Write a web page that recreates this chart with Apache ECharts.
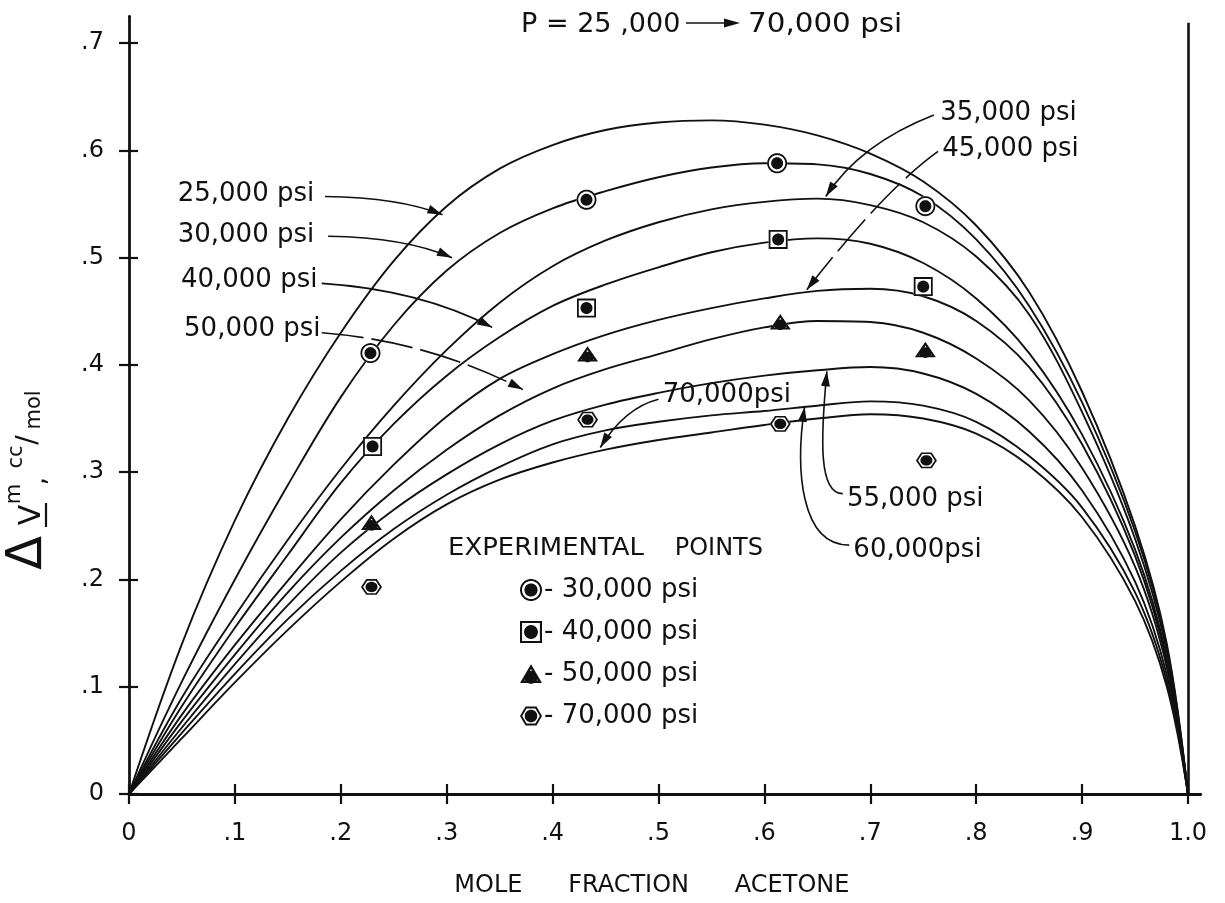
<!DOCTYPE html>
<html>
<head>
<meta charset="utf-8">
<title>Excess volume of mixing vs mole fraction acetone</title>
<script src="https://cdn.jsdelivr.net/npm/echarts@6/dist/echarts.min.js"></script>
<style>
  html, body { margin: 0; padding: 0; background: #fff; }
  #chart { width: 1225px; height: 903px; }
</style>
</head>
<body>
<div id="chart"></div>
<script>
// ---- Smoothed isobars: excess molar volume (cc/mol) vs mole fraction acetone ----
const moleFraction = [0, 0.05, 0.10, 0.15, 0.20, 0.25, 0.30, 0.35, 0.40, 0.45, 0.50, 0.55, 0.60, 0.65, 0.70, 0.75, 0.80, 0.85, 0.90, 0.95, 0.98, 1.00];
const dv25k = [0, 0.140, 0.255, 0.350, 0.430, 0.497, 0.548, 0.583, 0.605, 0.619, 0.626, 0.628, 0.624, 0.614, 0.597, 0.571, 0.530, 0.468, 0.375, 0.250, 0.140, 0];
const dv30k = [0, 0.105, 0.200, 0.288, 0.370, 0.437, 0.488, 0.523, 0.546, 0.562, 0.575, 0.584, 0.588, 0.587, 0.578, 0.557, 0.517, 0.455, 0.365, 0.245, 0.137, 0];
const dv35k = [0, 0.090, 0.166, 0.237, 0.303, 0.362, 0.414, 0.458, 0.492, 0.516, 0.533, 0.545, 0.552, 0.555, 0.549, 0.533, 0.501, 0.447, 0.356, 0.238, 0.133, 0];
const dv40k = [0, 0.082, 0.155, 0.223, 0.290, 0.345, 0.390, 0.426, 0.455, 0.475, 0.491, 0.505, 0.514, 0.518, 0.513, 0.495, 0.462, 0.411, 0.335, 0.228, 0.127, 0];
const dv45k = [0, 0.074, 0.139, 0.199, 0.256, 0.307, 0.352, 0.387, 0.410, 0.428, 0.442, 0.453, 0.462, 0.469, 0.471, 0.464, 0.441, 0.398, 0.326, 0.222, 0.123, 0];
const dv50k = [0, 0.068, 0.130, 0.188, 0.239, 0.283, 0.321, 0.353, 0.378, 0.396, 0.410, 0.424, 0.435, 0.441, 0.440, 0.430, 0.406, 0.367, 0.304, 0.212, 0.118, 0];
const dv55k = [0, 0.062, 0.121, 0.176, 0.225, 0.265, 0.298, 0.326, 0.348, 0.363, 0.374, 0.383, 0.390, 0.395, 0.398, 0.392, 0.373, 0.338, 0.283, 0.198, 0.111, 0];
const dv60k = [0, 0.057, 0.112, 0.163, 0.208, 0.247, 0.279, 0.305, 0.326, 0.339, 0.347, 0.353, 0.357, 0.362, 0.366, 0.362, 0.347, 0.315, 0.267, 0.188, 0.105, 0];
const dv70k = [0, 0.052, 0.104, 0.153, 0.198, 0.238, 0.270, 0.293, 0.309, 0.321, 0.330, 0.337, 0.344, 0.350, 0.354, 0.350, 0.336, 0.306, 0.258, 0.180, 0.100, 0];

// ---- Experimental points ----
const exp30kX = [0.228, 0.432, 0.612, 0.752];
const exp30kY = [0.411, 0.554, 0.588, 0.548];
const exp40kX = [0.230, 0.432, 0.613, 0.750];
const exp40kY = [0.324, 0.453, 0.517, 0.473];
const exp50kX = [0.229, 0.433, 0.615, 0.752];
const exp50kY = [0.253, 0.410, 0.440, 0.414];
const exp70kX = [0.229, 0.433, 0.615, 0.753];
const exp70kY = [0.193, 0.349, 0.345, 0.311];

// ---- Tick values ----
const xTickValues = [0, 0.1, 0.2, 0.3, 0.4, 0.5, 0.6, 0.7, 0.8, 0.9, 1.0];
const yTickValues = [0, 0.1, 0.2, 0.3, 0.4, 0.5, 0.6, 0.7];

const FONT = 'DejaVu Sans';
const INK = '#111';

const isobars = [
  { label: '25,000 psi', values: dv25k },
  { label: '30,000 psi', values: dv30k },
  { label: '35,000 psi', values: dv35k },
  { label: '40,000 psi', values: dv40k },
  { label: '45,000 psi', values: dv45k },
  { label: '50,000 psi', values: dv50k },
  { label: '55,000 psi', values: dv55k },
  { label: '60,000 psi', values: dv60k },
  { label: '70,000 psi', values: dv70k }
];

// ---- Marker shapes: outline ring + solid centre dot, as one path ----
function poly(points) {
  return 'M' + points.map(p => p[0].toFixed(3) + ' ' + p[1].toFixed(3)).join(' L') + ' Z';
}
function roundPts(r, cx, cy, n) {
  const out = [];
  for (let i = 0; i < n; i++) {
    const t = 2 * Math.PI * i / n;
    out.push([cx + r * Math.cos(t), cy + r * Math.sin(t)]);
  }
  return out;
}
function scalePts(pts, k) { return pts.map(p => [p[0] * k, p[1] * k]); }
function marker(outer, k, dot) {
  const hole = scalePts(outer, k).reverse();
  return {
    full: 'path://' + poly(outer) + ' ' + poly(hole) + ' ' + poly(dot),
    back: 'path://' + poly(outer)
  };
}
const mCircle = marker(roundPts(10, 0, 0, 48), 0.82, roundPts(6, 0, 0, 32));
const mSquare = marker([[-9.5, -9.5], [9.5, -9.5], [9.5, 9.5], [-9.5, 9.5]], 0.81, roundPts(6, 0, 0, 32));
const mTriangle = marker([[0, -12], [10.5, 6], [-10.5, 6]], 0.62, roundPts(6.2, 0, 0.6, 32));
const mHexagon = marker(roundPts(10.5, 0, 0, 6), 0.80, roundPts(6, 0, 0, 32));

const experiments = [
  { label: '30,000 psi', xs: exp30kX, ys: exp30kY, shape: mCircle, size: [20, 20] },
  { label: '40,000 psi', xs: exp40kX, ys: exp40kY, shape: mSquare, size: [19, 19] },
  { label: '50,000 psi', xs: exp50kX, ys: exp50kY, shape: mTriangle, size: [21, 18] },
  { label: '70,000 psi', xs: exp70kX, ys: exp70kY, shape: mHexagon, size: [21, 18.2] }
];

const pairs = (xs, ys) => xs.map((x, i) => [x, ys[i]]);

const series = [];
isobars.forEach((c, idx) => {
  const s = {
    type: 'line',
    name: c.label + ' isobar',
    data: pairs(moleFraction, c.values),
    smooth: 0.35,
    symbol: 'none',
    silent: true,
    lineStyle: { color: INK, width: 1.9 },
    z: 2
  };
  if (idx === 0) {
    // closing frame line at x = 1.0
    s.markLine = {
      silent: true,
      symbol: ['none', 'none'],
      label: { show: false },
      lineStyle: { color: INK, width: 2.6, type: 'solid' },
      data: [[{ coord: [1, 0] }, { coord: [1, 0.719] }]]
    };
  }
  series.push(s);
});
experiments.forEach(e => {
  series.push({
    type: 'scatter',
    name: e.label + ' backing',
    data: pairs(e.xs, e.ys),
    symbol: e.shape.back,
    symbolSize: e.size,
    symbolKeepAspect: true,
    itemStyle: { color: '#fff', opacity: 1 },
    silent: true,
    z: 4
  });
  series.push({
    type: 'scatter',
    name: e.label,
    data: pairs(e.xs, e.ys),
    symbol: e.shape.full,
    symbolSize: e.size,
    symbolKeepAspect: true,
    itemStyle: { color: INK, opacity: 1 },
    silent: true,
    z: 5
  });
});

const fmtX = v => (Math.abs(v) < 1e-9 ? '0' : Math.abs(v - 1) < 1e-9 ? '1.0' : v.toFixed(1).replace(/^0/, ''));
const fmtY = v => (Math.abs(v) < 1e-9 ? '0' : v.toFixed(1).replace(/^0/, ''));

const axisLine = { show: true, onZero: false, lineStyle: { color: INK, width: 2.8 } };
const tickLine = { color: INK, width: 2.2 };
const labelStyle = { color: INK, fontSize: 24, fontFamily: FONT };

const option = {
  animation: false,
  backgroundColor: '#fff',
  textStyle: { fontFamily: FONT, color: INK },
  grid: { left: 129, right: 24.3, top: 16.3, bottom: 108, containLabel: false },
  xAxis: [
    {
      type: 'value', min: 0, max: 1.012, position: 'bottom',
      axisLine: axisLine,
      axisTick: { show: true, length: 10, lineStyle: tickLine, customValues: xTickValues },
      axisLabel: Object.assign({ customValues: xTickValues, formatter: fmtX, margin: 28 }, labelStyle),
      splitLine: { show: false },
      name: 'MOLE      FRACTION      ACETONE',
      nameLocation: 'middle',
      nameGap: 80,
      nameTextStyle: { color: INK, fontSize: 24, fontFamily: FONT, padding: [0, 26, 0, 0] }
    },
    {
      type: 'value', min: 0, max: 1.012, position: 'bottom',
      axisLine: { show: false },
      axisTick: { show: true, inside: true, length: 10, lineStyle: tickLine, customValues: xTickValues },
      axisLabel: { show: false },
      splitLine: { show: false }
    }
  ],
  yAxis: [
    {
      type: 'value', min: 0, max: 0.725, position: 'left',
      axisLine: axisLine,
      axisTick: { show: true, length: 10, lineStyle: tickLine, customValues: yTickValues },
      axisLabel: Object.assign({ customValues: yTickValues, formatter: fmtY, margin: 25 }, labelStyle),
      splitLine: { show: false }
    },
    {
      type: 'value', min: 0, max: 0.725, position: 'left',
      axisLine: { show: false },
      axisTick: { show: true, inside: true, length: 9, lineStyle: tickLine, customValues: yTickValues },
      axisLabel: { show: false },
      splitLine: { show: false }
    }
  ],
  legend: {
    data: experiments.map(e => e.label),
    orient: 'vertical',
    left: 520,
    top: 577,
    padding: 0,
    itemWidth: 22,
    itemHeight: 22,
    itemGap: 16,
    selectedMode: false,
    formatter: '- {name}',
    itemStyle: { opacity: 1 },
    textStyle: { color: INK, fontSize: 26, fontFamily: FONT, padding: [0, 0, 0, -3] }
  },
  series: series
};

const chart = echarts.init(document.getElementById('chart'));
chart.setOption(option);

// ---- Callouts: pressure labels with curved leaders ending in arrowheads ----
const callouts = [
  { text: '25,000 psi', textAt: [0.046, 0.559], leader: [[0.185, 0.557], [0.256, 0.556], [0.296, 0.540]] },
  { text: '30,000 psi', textAt: [0.046, 0.521], leader: [[0.188, 0.520], [0.261, 0.519], [0.305, 0.500]] },
  { text: '40,000 psi', textAt: [0.049, 0.479], leader: [[0.182, 0.476], [0.275, 0.470], [0.343, 0.435]] },
  { text: '50,000 psi', textAt: [0.052, 0.433], leader: [[0.182, 0.430], [0.284, 0.422], [0.372, 0.377]], dash: true },
  { text: '35,000 psi', textAt: [0.766, 0.635], leader: [[0.760, 0.633], [0.690, 0.606], [0.658, 0.557]] },
  { text: '45,000 psi', textAt: [0.768, 0.601], leader: [[0.764, 0.599], [0.713, 0.563], [0.640, 0.470]], dash: true },
  { text: '70,000psi', textAt: [0.504, 0.372], leader: [[0.500, 0.368], [0.468, 0.360], [0.445, 0.323]] },
  { text: '55,000 psi', textAt: [0.678, 0.275], leader: [[0.674, 0.280], [0.651, 0.280], [0.653, 0.331], [0.659, 0.394]] },
  { text: '60,000psi', textAt: [0.684, 0.227], leader: [[0.680, 0.232], [0.634, 0.232], [0.629, 0.303], [0.638, 0.361]] }
];

const toPx = p => chart.convertToPixel({ xAxisIndex: 0, yAxisIndex: 0 }, p);

function arrowHead(tip, from, len, half) {
  const dx = tip[0] - from[0], dy = tip[1] - from[1];
  const L = Math.hypot(dx, dy) || 1;
  const ux = dx / L, uy = dy / L;
  const bx = tip[0] - ux * len, by = tip[1] - uy * len;
  return [[tip[0], tip[1]], [bx - uy * half, by + ux * half], [bx + uy * half, by - ux * half]];
}

const graphics = [];
callouts.forEach(c => {
  const t = toPx(c.textAt);
  graphics.push({
    type: 'text', x: t[0], y: t[1], silent: true,
    style: { text: c.text, fontSize: 26, fontFamily: FONT, fill: INK, align: 'left', verticalAlign: 'middle' }
  });
  const p = c.leader.map(toPx);
  const shape = { x1: p[0][0], y1: p[0][1], cpx1: p[1][0], cpy1: p[1][1] };
  const end = p[p.length - 1];
  if (p.length === 4) { shape.cpx2 = p[2][0]; shape.cpy2 = p[2][1]; }
  shape.x2 = end[0]; shape.y2 = end[1];
  graphics.push({
    type: 'bezierCurve', silent: true, shape: shape,
    style: { stroke: INK, lineWidth: 1.6, fill: null, lineDash: c.dash ? [42, 8] : null }
  });
  graphics.push({
    type: 'polygon', silent: true,
    shape: { points: arrowHead(end, p[p.length - 2], 15, 4.5) },
    style: { fill: INK }
  });
});

// header: pressure range
graphics.push(
  { type: 'text', x: 521, y: 25, scaleX: 1.04, silent: true,
    style: { text: 'P = 25 ,000', fontSize: 26, fontFamily: FONT, fill: INK, align: 'left', verticalAlign: 'middle' } },
  { type: 'line', silent: true, shape: { x1: 686, y1: 23, x2: 726, y2: 23 }, style: { stroke: INK, lineWidth: 1.6 } },
  { type: 'polygon', silent: true, shape: { points: arrowHead([740, 23], [686, 23], 16, 4.5) }, style: { fill: INK } },
  { type: 'text', x: 748, y: 25, scaleX: 1.13, silent: true,
    style: { text: '70,000 psi', fontSize: 26, fontFamily: FONT, fill: INK, align: 'left', verticalAlign: 'middle' } }
);

// legend heading
graphics.push(
  { type: 'text', x: 448, y: 549, scaleX: 1.08, silent: true,
    style: { text: 'EXPERIMENTAL', fontSize: 24, fontFamily: FONT, fill: INK, align: 'left', verticalAlign: 'middle' } },
  { type: 'text', x: 763, y: 549, silent: true,
    style: { text: 'POINTS', fontSize: 24, fontFamily: FONT, fill: INK, align: 'right', verticalAlign: 'middle' } }
);

// vertical axis title: ΔV̲ᵐ, cc/mol (read bottom to top)
const titleParts = [
  { text: 'Δ', x: 28, y: 553, size: 50 },
  { text: 'V', x: 32, y: 515, size: 30 },
  { text: 'm', x: 15, y: 494, size: 21 },
  { text: ',', x: 38, y: 481, size: 26 },
  { text: 'cc', x: 17, y: 457, size: 21 },
  { text: '/', x: 29, y: 440, size: 28 },
  { text: 'mol', x: 35, y: 410, size: 21 }
];
titleParts.forEach(t => {
  graphics.push({
    type: 'text', x: t.x, y: t.y, rotation: Math.PI / 2, silent: true,
    style: { text: t.text, fontSize: t.size, fontFamily: FONT, fill: INK, align: 'center', verticalAlign: 'middle' }
  });
});
graphics.push({ type: 'line', silent: true, shape: { x1: 46, y1: 503, x2: 46, y2: 527 }, style: { stroke: INK, lineWidth: 2.2 } });

chart.setOption({ graphic: graphics });
</script>
</body>
</html>
